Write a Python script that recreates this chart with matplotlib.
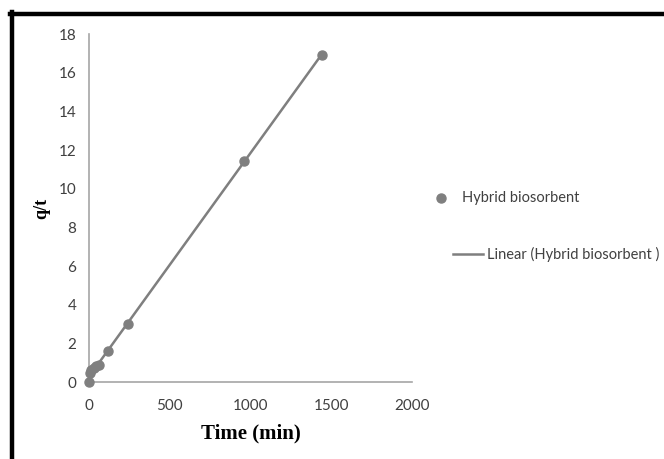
import matplotlib.pyplot as plt, numpy as np
from matplotlib.lines import Line2D

# pseudo-second-order kinetics data
time_min = [0, 5, 15, 30, 45, 60, 120, 240, 960, 1440]
q_over_t = [0.0, 0.45, 0.6, 0.75, 0.85, 0.9, 1.6, 3.0, 11.45, 16.9]
x_ticks = [0, 500, 1000, 1500, 2000]
y_ticks = [0, 2, 4, 6, 8, 10, 12, 14, 16, 18]
series_name = "Hybrid biosorbent"
trend_name = "Linear (Hybrid biosorbent )"

gray = "#7f7f7f"
axis_gray = "#a6a6a6"

fig = plt.figure(figsize=(6.64, 4.59), dpi=100)
ax = fig.add_axes([89 / 664, 1 - 382 / 459, 323 / 664, 348 / 459])

t = np.array(time_min, dtype=float)
q = np.array(q_over_t)
slope, intercept = np.polyfit(t, q, 1)
tt = np.array([t.min(), t.max()])
ax.plot(tt, slope * tt + intercept, color=gray, lw=1.8, zorder=2)
ax.plot(t, q, "o", color=gray, ms=6.5, zorder=3, clip_on=False)

ax.set_xlim(0, 2000)
ax.set_ylim(0, 18)
ax.set_xticks(x_ticks)
ax.set_yticks(y_ticks)
for s in ["top", "right"]:
    ax.spines[s].set_visible(False)
for s in ["left", "bottom"]:
    ax.spines[s].set_color(axis_gray)
    ax.spines[s].set_linewidth(1.2)
ax.tick_params(length=0, labelsize=11, colors="#404040")
ax.tick_params(axis="y", pad=9)
ax.tick_params(axis="x", pad=12)
for lab in ax.get_xticklabels() + ax.get_yticklabels():
    lab.set_family("Lato")

ax.set_xlabel("Time (min)", family="Liberation Serif", fontweight="bold", fontsize=15, labelpad=8)
ax.set_ylabel("q/t", family="Liberation Serif", fontweight="bold", fontsize=13, labelpad=6)

# legend drawn like the Excel one (entries not aligned)
fig.add_artist(Line2D([441 / 664], [1 - 198 / 459], marker="o", color=gray, ms=6.5, ls="none"))
fig.text(462 / 664, 1 - 198 / 459, series_name, family="Lato", fontsize=10.5, color="#404040", va="center")
fig.add_artist(Line2D([453 / 664, 483 / 664], [1 - 254 / 459] * 2, color=gray, lw=1.8))
fig.text(487 / 664, 1 - 254 / 459, trend_name, family="Lato", fontsize=10.5, color="#404040", va="center")

# thick black frame on top and left
fig.add_artist(Line2D([12 / 664, 12 / 664], [0, 1 - 12 / 459], color="black", lw=3.2))
fig.add_artist(Line2D([10 / 664, 1], [1 - 14 / 459] * 2, color="black", lw=3.2))

fig.savefig("out.png", dpi=100)
